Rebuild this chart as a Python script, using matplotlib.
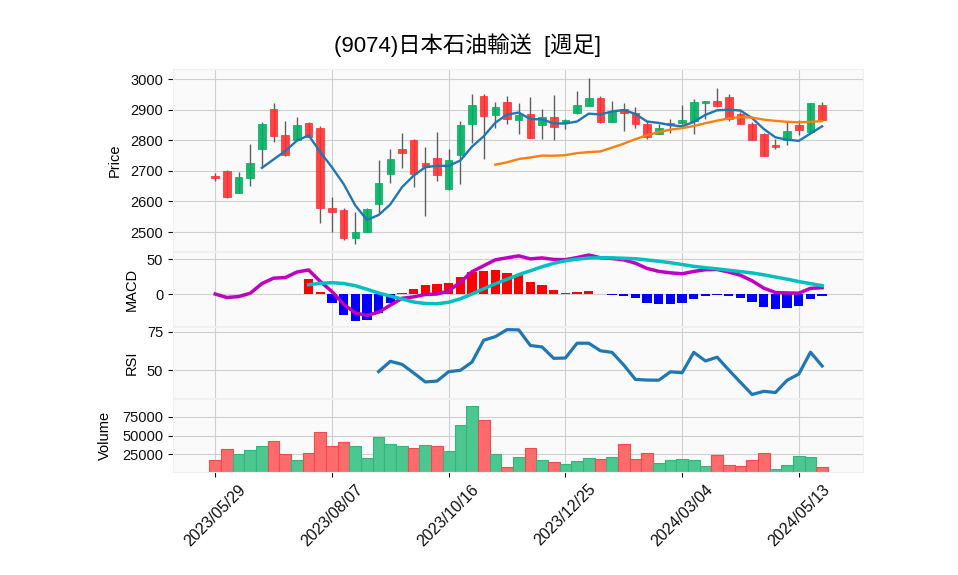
import numpy as np
import pandas as pd
import matplotlib
matplotlib.use("Agg")
import matplotlib.pyplot as plt

plt.rcParams['font.family'] = ['Liberation Sans', 'Noto Sans CJK JP', 'DejaVu Sans']

title = "(9074)日本石油輸送  [週足]"
tick_positions = [0, 10, 20, 30, 40, 50]
tick_labels = ["2023/05/29", "2023/08/07", "2023/10/16", "2023/12/25", "2024/03/04", "2024/05/13"]

opens = [2682, 2700, 2629, 2678, 2773, 2902, 2817, 2800, 2858, 2839,
         2579, 2572, 2482, 2501, 2591, 2689, 2772, 2801, 2725, 2741,
         2640, 2751, 2852, 2945, 2882, 2924, 2867, 2886, 2849, 2875,
         2855, 2888, 2913, 2937, 2861, 2901, 2888, 2852, 2820, 2850,
         2855, 2863, 2921, 2928, 2941, 2885, 2853, 2821, 2784, 2800,
         2849, 2828, 2915]
highs = [2694, 2703, 2695, 2787, 2861, 2921, 2864, 2876, 2861, 2846,
         2615, 2580, 2566, 2578, 2736, 2771, 2823, 2805, 2779, 2826,
         2771, 2862, 2951, 2950, 2926, 2945, 2921, 2940, 2901, 2948,
         2870, 2961, 3005, 2945, 2929, 2923, 2910, 2863, 2853, 2868,
         2915, 2934, 2930, 2970, 2950, 2893, 2861, 2825, 2803, 2860,
         2867, 2922, 2924]
lows = [2666, 2612, 2628, 2651, 2714, 2793, 2750, 2798, 2810, 2528,
        2499, 2474, 2461, 2500, 2562, 2660, 2709, 2647, 2551, 2668,
        2638, 2658, 2792, 2739, 2839, 2853, 2821, 2808, 2804, 2801,
        2837, 2887, 2912, 2855, 2860, 2830, 2841, 2803, 2819, 2825,
        2845, 2821, 2868, 2910, 2862, 2852, 2801, 2750, 2772, 2784,
        2816, 2828, 2867]
closes = [2677, 2614, 2680, 2725, 2853, 2815, 2752, 2849, 2811, 2580,
          2566, 2479, 2499, 2575, 2660, 2739, 2760, 2689, 2711, 2685,
          2736, 2849, 2915, 2880, 2908, 2868, 2882, 2809, 2875, 2842,
          2866, 2915, 2937, 2861, 2893, 2888, 2852, 2812, 2839, 2858,
          2866, 2925, 2928, 2913, 2868, 2852, 2801, 2750, 2777, 2830,
          2832, 2922, 2867]
volumes = [17174, 31522, 25000, 30217, 36739, 43261, 25000, 17174, 26304, 55000,
           36739, 41957, 36739, 20217, 48478, 39348, 36739, 34130, 38043, 36739,
           28913, 64130, 89348, 71087, 25435, 8478, 21522, 33261, 17609, 15000,
           12391, 16304, 20217, 18913, 21522, 38478, 18913, 26739, 13696, 17609,
           18913, 17609, 9783, 24130, 11087, 9783, 17609, 26739, 5870, 11087,
           22826, 21522, 8478]

o = np.array(opens, float); h = np.array(highs, float)
l = np.array(lows, float); c = np.array(closes, float)
v = np.array(volumes, float)
x = np.arange(len(c))
cs = pd.Series(c)

# indicators derived from closes
ma5 = cs.rolling(5).mean()
ma25 = cs.rolling(25).mean()
ema12 = cs.ewm(span=12, adjust=False).mean()
ema26 = cs.ewm(span=26, adjust=False).mean()
macd = ema12 - ema26
signal = macd.rolling(9).mean()
hist = macd - signal
d = cs.diff()
gain = d.clip(lower=0).rolling(14).mean()
loss = (-d.clip(upper=0)).rolling(14).mean()
rsi = 100 * gain / (gain + loss)

UP, DOWN = '#00b060', '#fe3032'
VUP, VDOWN = '#4dc790', '#fd6b6c'
FACE = '#fafafa'
GRID = '#d0d0d0'

fig = plt.figure(figsize=(9.58, 5.75), dpi=100)
W, H = 958, 575
L, R = 173, 863

def mk(top, bot):
    ax = fig.add_axes([L / W, 1 - bot / H, (R - L) / W, (bot - top) / H])
    ax.set_facecolor(FACE)
    for s in ax.spines.values():
        s.set_color('#f0f0f0')
    ax.grid(True, color=GRID, linewidth=0.8)
    ax.set_axisbelow(True)
    ax.tick_params(colors='#101010', labelsize=10.5, length=3.5)
    ax.set_xlim(-3.62, 55.5)
    ax.set_xticks(tick_positions)
    return ax

ax1 = mk(69, 251)
ax2 = mk(252, 326)
ax3 = mk(327, 398)
ax4 = mk(399, 472)
for ax in (ax1, ax2, ax3):
    ax.tick_params(axis='x', length=0, labelbottom=False)

# candles
up = c >= o
ax1.vlines(x, l, h, color='#606060', linewidth=1.0, zorder=2)
ax1.bar(x, np.abs(c - o), bottom=np.minimum(o, c), width=0.65,
        color=np.where(up, UP, DOWN), edgecolor=np.where(up, UP, DOWN),
        linewidth=0.6, alpha=0.9, zorder=3)
ax1.plot(x, ma5, color='#1f77b4', linewidth=1.7, zorder=4)
ax1.plot(x, ma25, color='#ff7f0e', linewidth=1.7, zorder=4)
ax1.set_ylim(2438, 3033)
ax1.set_yticks([2500, 2600, 2700, 2800, 2900, 3000])
ax1.set_ylabel('Price', fontsize=10.5)

# MACD
ax2.bar(x, hist, width=0.8, color=np.where(hist >= 0, 'red', 'blue'), zorder=2)
ax2.plot(x, macd, color='#c000c0', linewidth=2.5, zorder=3)
ax2.plot(x, signal, color='#00c0c0', linewidth=2.5, zorder=3)
ax2.set_ylim(-45.7, 60)
ax2.set_yticks([0, 50])
ax2.set_ylabel('MACD', fontsize=10.5)

# RSI
ax3.plot(x, rsi, color='#1f77b4', linewidth=2.3)
ax3.set_ylim(32, 78.2)
ax3.set_yticks([50, 75])
ax3.set_ylabel('RSI', fontsize=10.5)

# Volume
prev = np.r_[o[0], c[:-1]]
vup = c >= prev
vcol = np.where(vup, VUP, VDOWN)
vedge = np.where(vup, '#35b47b', '#f04c4d')
ax4.bar(x, v, width=1.0, color=vcol, edgecolor=vedge, linewidth=0.8, zorder=2)
ax4.set_ylim(1760, 98300)
ax4.set_yticks([25000, 50000, 75000])
ax4.set_yticklabels(['25000', '50000', '75000'])
ax4.set_ylabel('Volume', fontsize=10.5)
ax4.set_xticklabels(tick_labels, rotation=45, ha='center', fontsize=11.5)

for ax in (ax1, ax2, ax3, ax4):
    ax.yaxis.set_label_coords(-0.075 if ax is ax1 else (-0.089 if ax is ax4 else -0.05), 0.5)

fig.text(468 / W, 1 - 45 / H, title, ha='center', va='center', fontsize=16,
         family=['Liberation Sans', 'Noto Sans CJK JP'])

fig.savefig('out.png', dpi=100, facecolor='white')
